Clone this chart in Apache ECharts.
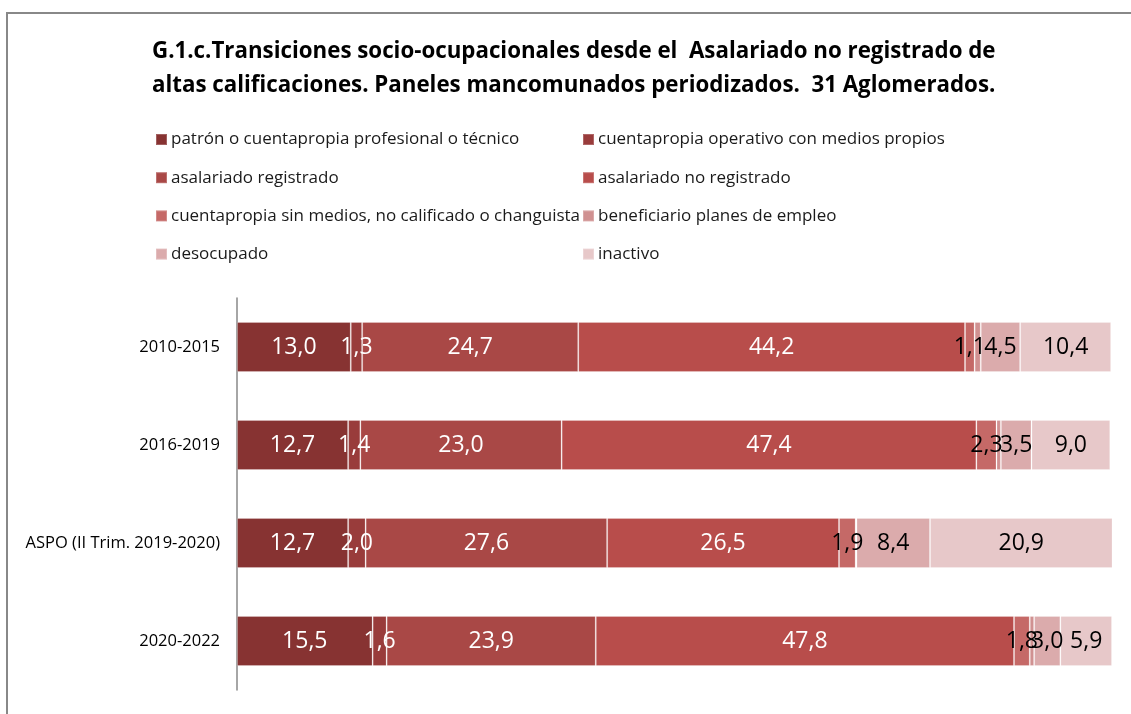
<!DOCTYPE html>
<html>
<head>
<meta charset="utf-8">
<script src="https://cdn.jsdelivr.net/npm/echarts@6/dist/echarts.min.js"></script>
<style>html,body{margin:0;padding:0;background:#fff}#c{width:1131px;height:714px}</style>
</head>
<body>
<div id="c"></div>
<script>
const categories = ["2010-2015", "2016-2019", "ASPO (II Trim. 2019-2020)", "2020-2022"];
const seriesNames = [
  "patrón o cuentapropia profesional o técnico",
  "cuentapropia operativo con medios propios",
  "asalariado registrado",
  "asalariado no registrado",
  "cuentapropia sin medios, no calificado o changuista",
  "beneficiario planes de empleo",
  "desocupado",
  "inactivo"
];
const patron = [13.0, 12.7, 12.7, 15.5];
const cpOperativo = [1.3, 1.4, 2.0, 1.6];
const asalRegistrado = [24.7, 23.0, 27.6, 23.9];
const asalNoRegistrado = [44.2, 47.4, 26.5, 47.8];
const cpSinMedios = [1.1, 2.3, 1.9, 1.8];
const beneficiario = [0.7, 0.5, 0.1, 0.5];
const desocupado = [4.5, 3.5, 8.4, 3.0];
const inactivo = [10.4, 9.0, 20.9, 5.9];
const values = [patron, cpOperativo, asalRegistrado, asalNoRegistrado, cpSinMedios, beneficiario, desocupado, inactivo];
const colors = ["#873332", "#993c3b", "#a94846", "#b84d4b", "#c56967", "#d09191", "#dbabac", "#e7c8c9"];
const labelColors = ["#fff", "#fff", "#fff", "#fff", "#000", null, "#000", "#000"];

const FONT = "'Open Sans', sans-serif";
const chart = echarts.init(document.getElementById('c'));
const yCats = categories.slice().reverse();

const series = seriesNames.map((name, i) => ({
  name: name,
  type: 'bar',
  stack: 'total',
  barWidth: 50,
  data: values[i].slice().reverse(),
  itemStyle: { color: colors[i], borderColor: 'rgba(255,255,255,0.22)', borderWidth: 1 },
  label: {
    show: labelColors[i] !== null,
    position: 'inside',
    color: labelColors[i] || '#000',
    fontFamily: FONT,
    fontSize: 23,
    formatter: p => p.value.toFixed(1).replace('.', ',')
  },
  emphasis: { disabled: true }
}));

const legendBase = {
  orient: 'vertical', top: 126, itemGap: 21.2,
  itemWidth: 11, itemHeight: 11, icon: 'rect',
  textStyle: { fontFamily: FONT, fontSize: 17, lineHeight: 16, color: '#1a1a1a', padding: [0, 0, 0, -1] }
};

chart.setOption({
  animation: false,
  color: colors,
  title: {
    text: "G.1.c.Transiciones socio-ocupacionales desde el  Asalariado no registrado de\naltas calificaciones. Paneles mancomunados periodizados.  31 Aglomerados.",
    left: 147,
    top: 30,
    textAlign: 'left',
    textStyle: { fontFamily: FONT, fontWeight: 'bold', fontSize: 22.3, color: '#000', lineHeight: 34, align: 'center', width: 845 }
  },
  legend: [
    Object.assign({}, legendBase, { data: [seriesNames[0], seriesNames[2], seriesNames[4], seriesNames[6]], left: 150 }),
    Object.assign({}, legendBase, { data: [seriesNames[1], seriesNames[3], seriesNames[5], seriesNames[7]], left: 577 })
  ],
  grid: { left: 237, right: 19, top: 298, bottom: 24, containLabel: false },
  xAxis: { type: 'value', min: 0, max: 100, show: false },
  yAxis: {
    type: 'category',
    data: yCats,
    axisLine: { show: true, lineStyle: { color: '#888', width: 1.5 } },
    axisTick: { show: false },
    axisLabel: { fontFamily: FONT, fontSize: 16.5, color: '#000', margin: 17 }
  },
  graphic: [{
    type: 'rect',
    shape: { x: 7, y: 13, width: 1200, height: 800 },
    style: { fill: 'none', stroke: '#888', lineWidth: 2 },
    silent: true
  }],
  series: series
});
</script>
</body>
</html>
